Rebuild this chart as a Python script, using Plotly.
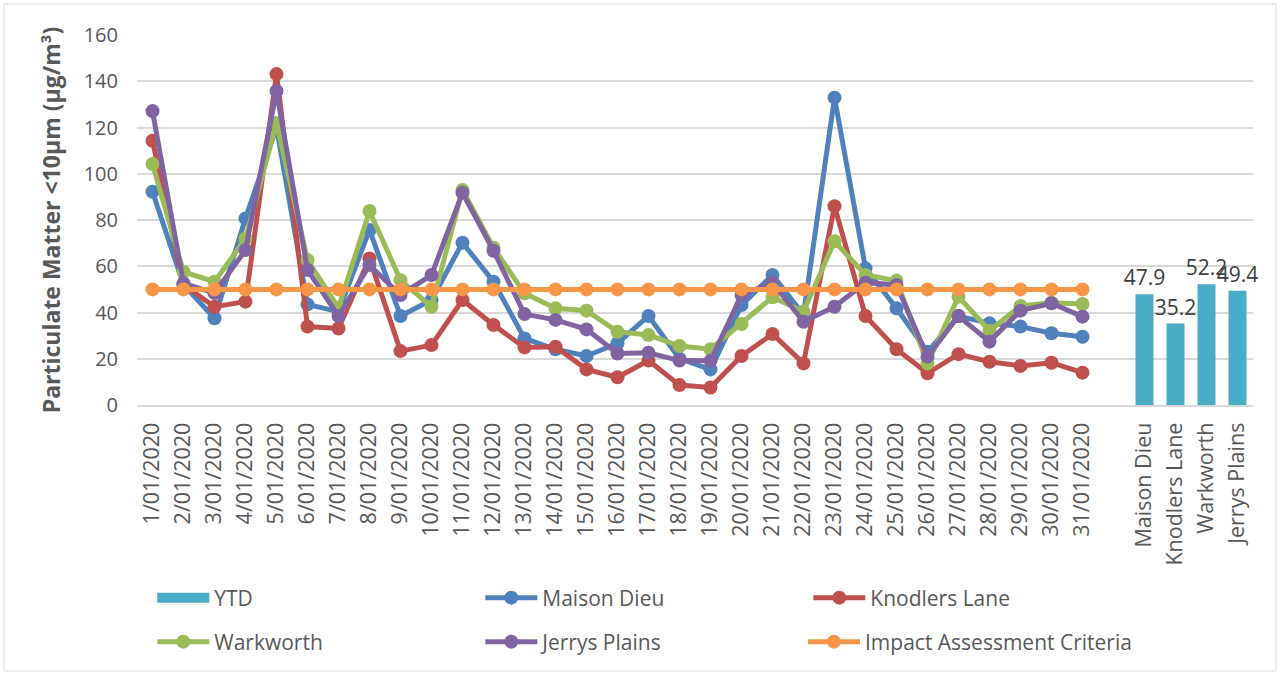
import plotly.graph_objects as go

dates = [f"{d}/01/2020" for d in range(1, 32)]
stations = ["Maison Dieu", "Knodlers Lane", "Warkworth", "Jerrys Plains"]
gap_label = " "
categories = dates + [gap_label] + stations

ytd = [47.9, 35.2, 52.2, 49.4]

maison_dieu = [92.2, 52, 37.5, 80.7, 120, 43.5, 40.4, 75.7, 38.5, 45.4, 70.2, 53.3, 28.8, 24.1, 21.2, 26.7,
               38.5, 20, 15.4, 43.2, 56.2, 39, 132.9, 59.1, 41.8, 23, 38.5, 35.3, 33.9, 31, 29.5]
knodlers_lane = [114.3, 52, 42.5, 44.7, 143.1, 33.9, 33.1, 63.4, 23.3, 25.9, 45.4, 34.6, 24.9, 25.2, 15.4, 12,
                 19.2, 8.6, 7.6, 21.2, 30.7, 18, 86, 38.5, 24.1, 13.7, 22, 18.7, 16.9, 18.3, 14]
warkworth = [104.2, 57.6, 53.3, 72, 122, 62.7, 42, 83.9, 54, 42.5, 93, 68, 48.3, 41.8, 40.8, 31.7,
             30.3, 25.5, 24.1, 35, 46.6, 40.4, 70.8, 56.2, 53.8, 18, 46.8, 32.1, 42.8, 44.2, 43.7]
jerrys_plains = [127.1, 52.6, 48.4, 67, 135.8, 58.4, 38.5, 60.5, 47.6, 56.2, 91.8, 66.7, 39.3, 36.8, 32.7, 22.3,
                 22.6, 19.2, 19.1, 47.6, 52.9, 36, 42.5, 52.9, 51.9, 20.9, 38.5, 27.4, 40.8, 44, 38.2]
criteria = [50] * 31

FONT = "Open Sans"
TXT = "#595959"
GRID = "#D9D9D9"
BAR = "#4BACC6"

fig = go.Figure()

fig.add_trace(go.Bar(
    x=stations, y=ytd, name="YTD", marker=dict(color=BAR, line=dict(width=0)),
    text=[f"{v:.1f}" for v in ytd], textposition="outside", constraintext="none", cliponaxis=False,
    textfont=dict(family=FONT, size=21, color="#404040"), width=0.58, showlegend=False))

# legend-only entry drawn as a wide block, like the reference's YTD swatch
fig.add_trace(go.Scatter(
    x=[None], y=[None], name="YTD", mode="lines", line=dict(color=BAR, width=13),
    legend="legend", showlegend=True))

line_series = [
    ("Maison Dieu", maison_dieu, "#4F81BD", "legend"),
    ("Knodlers Lane", knodlers_lane, "#C0504D", "legend"),
    ("Warkworth", warkworth, "#9BBB59", "legend2"),
    ("Jerrys Plains", jerrys_plains, "#8064A2", "legend2"),
    ("Impact Assessment Criteria", criteria, "#F79646", "legend3"),
]
for name, vals, color, lg in line_series:
    fig.add_trace(go.Scatter(
        x=dates, y=vals, name=name, mode="lines+markers",
        line=dict(color=color, width=5), marker=dict(color=color, size=14),
        legend=lg, cliponaxis=False))

legend_base = dict(orientation="h", xanchor="left", yanchor="middle", itemwidth=52,
                   font=dict(family=FONT, size=21, color=TXT), bgcolor="rgba(0,0,0,0)",
                   traceorder="normal")
legend_cols = dict(entrywidth=261, entrywidthmode="pixels", **legend_base)

row1_y = (405 - 598) / 370
row2_y = (405 - 642) / 370

fig.update_layout(
    width=1280, height=675,
    margin=dict(l=137, r=27, t=35, b=270, autoexpand=False),
    paper_bgcolor="white", plot_bgcolor="white",
    font=dict(family=FONT, size=20, color=TXT),
    showlegend=True,
    legend=dict(x=0.0137, y=row1_y, **legend_cols),
    legend2=dict(x=0.0137, y=row2_y, **legend_cols),
    legend3=dict(x=(803 - 137) / 1116, y=row2_y, **legend_base),
    xaxis=dict(type="category", categoryorder="array", categoryarray=categories,
               range=[-0.5, len(categories) - 0.5], tickangle=-90, showgrid=False,
               showline=True, linecolor=GRID, linewidth=2, ticks="", automargin=False,
               tickfont=dict(family=FONT, size=21.5, color=TXT), ticklabelstandoff=7),
    yaxis=dict(range=[0, 160], dtick=20, showgrid=True, gridcolor=GRID, gridwidth=1.5,
               zeroline=False, showline=False, ticks="", automargin=False,
               tickfont=dict(family=FONT, size=20, color=TXT), ticklabelstandoff=18,
               title=dict(text="Particulate Matter <10µm (µg/m³)",
                          font=dict(family=FONT, size=23, color=TXT, weight="bold"), standoff=16)),
    bargap=0.42,
)

fig.add_shape(type="rect", xref="paper", yref="paper",
              x0=(4 - 137) / 1116, x1=(1276 - 137) / 1116,
              y0=(405 - 671) / 370, y1=(405 - 4) / 370,
              line=dict(color=GRID, width=1), fillcolor="rgba(0,0,0,0)", layer="below")

fig.write_html("out.html", config={"displayModeBar": False},
               post_script="document.body.style.margin='0';document.body.style.overflow='hidden';")
